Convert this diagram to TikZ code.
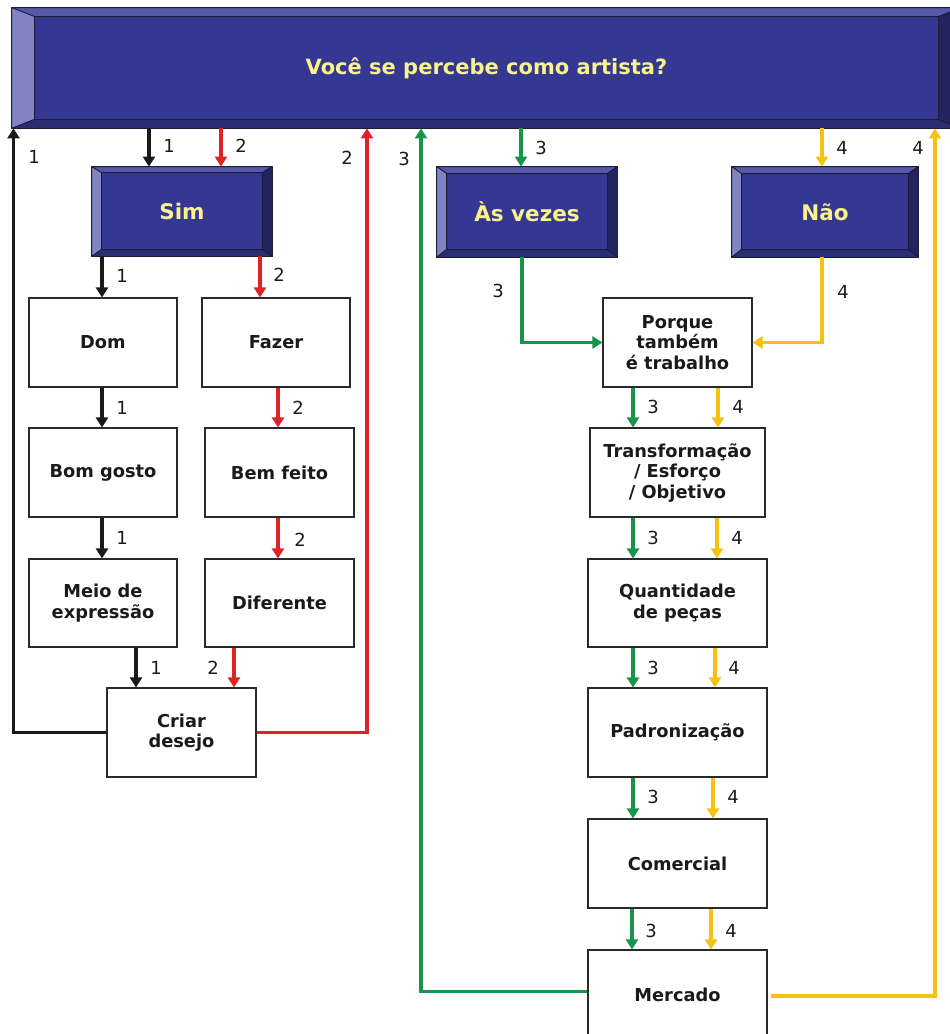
\documentclass[tikz,border=0pt]{standalone}
\usepackage{fontspec}
\setmainfont{DejaVu Sans}
\usetikzlibrary{arrows.meta,calc}

\definecolor{face}{HTML}{343893}
\definecolor{bvtop}{HTML}{5557A8}
\definecolor{bvleft}{HTML}{8283C2}
\definecolor{bvbottom}{HTML}{2B2D72}
\definecolor{bvright}{HTML}{222460}
\definecolor{edge}{HTML}{1C1C34}
\definecolor{ylw}{HTML}{FAF28C}
\definecolor{txt}{HTML}{1A1A1A}
\definecolor{boxline}{HTML}{2A2A2A}
\definecolor{blk}{HTML}{1A1A1A}
\definecolor{rd}{HTML}{DF2227}
\definecolor{gr}{HTML}{17954B}
\definecolor{yl}{HTML}{F6C212}

% bevelled frame around a node: node, side inset, top inset, bottom inset
\newcommand\bevelframe[4]{%
  \filldraw[bvtop,draw=edge,line width=0.8pt,line join=round]
    (#1.north west) -- (#1.north east) -- ($(#1.north east)+(-#2,#3)$) -- ($(#1.north west)+(#2,#3)$) -- cycle;
  \filldraw[bvleft,draw=edge,line width=0.8pt,line join=round]
    (#1.north west) -- ($(#1.north west)+(#2,#3)$) -- ($(#1.south west)+(#2,-#4)$) -- (#1.south west) -- cycle;
  \filldraw[bvbottom,draw=edge,line width=0.8pt,line join=round]
    (#1.south west) -- (#1.south east) -- ($(#1.south east)+(-#2,-#4)$) -- ($(#1.south west)+(#2,-#4)$) -- cycle;
  \filldraw[bvright,draw=edge,line width=0.8pt,line join=round]
    (#1.north east) -- (#1.south east) -- ($(#1.south east)+(-#2,-#4)$) -- ($(#1.north east)+(-#2,#3)$) -- cycle;
}

\begin{document}
\begin{tikzpicture}[x=1pt,y=-1pt,
  bluebox/.style={fill=face, draw=edge, line width=0.8pt, text=ylw,
    font=\fontsize{21.5}{24}\selectfont\bfseries, inner sep=0pt},
  whitebox/.style={draw=boxline, line width=1.1pt, fill=white, align=center,
    font=\fontsize{17.8}{20.5}\selectfont\bfseries, text=txt, inner sep=0pt},
  num/.style={font=\fontsize{18}{18}\selectfont, text=txt, inner sep=0pt},
  link/.style={line width=3.8pt, line join=miter, -{Triangle[width=12pt,length=10pt]}}
]
\clip (0,0) rectangle (950,1034);

% question bar and answer boxes
\node[bluebox, minimum width=949pt, minimum height=120pt, font=\fontsize{21}{24}\selectfont\bfseries]
  (bar) at (486.5,68) {Você se percebe como artista?};
\bevelframe{bar}{23}{9}{9}
\node[bluebox, minimum width=180pt, minimum height=89pt] (sim) at (182,211.5) {Sim};
\bevelframe{sim}{10}{6}{7}
\node[bluebox, minimum width=180pt, minimum height=90pt] (asv) at (527,212) {Às vezes};
\bevelframe{asv}{10}{7}{8}
\node[bluebox, minimum width=186pt, minimum height=90pt] (nao) at (825,212) {Não};
\bevelframe{nao}{10}{7}{8}

% left branch
\node[whitebox, minimum width=148pt, minimum height=89pt] (dom) at (103,342.5) {Dom};
\node[whitebox, minimum width=148pt, minimum height=89pt] (fazer) at (276,342.5) {Fazer};
\node[whitebox, minimum width=148pt, minimum height=89pt] (bom) at (103,472.5) {Bom gosto};
\node[whitebox, minimum width=149pt, minimum height=89pt] (bem) at (279.5,472.5) {Bem feito};
\node[whitebox, minimum width=148pt, minimum height=88pt] (meio) at (103,603) {Meio de\\expressão};
\node[whitebox, minimum width=149pt, minimum height=88pt] (dif) at (279.5,603) {Diferente};
\node[whitebox, minimum width=149pt, minimum height=89pt] (criar) at (181.5,732.5) {Criar\\desejo};

% right branch
\node[whitebox, minimum width=149pt, minimum height=89pt] (porque) at (677.5,342.5) {Porque\\também\\é trabalho};
\node[whitebox, minimum width=175pt, minimum height=89pt] (trans) at (677.5,472.5) {Transformação\\/ Esforço\\/ Objetivo};
\node[whitebox, minimum width=179pt, minimum height=88pt] (quant) at (677.5,603) {Quantidade\\de peças};
\node[whitebox, minimum width=179pt, minimum height=89pt] (pad) at (677.5,732.5) {Padronização};
\node[whitebox, minimum width=179pt, minimum height=89pt] (com) at (677.5,863.5) {Comercial};
\node[whitebox, minimum width=179pt, minimum height=89pt] (merc) at (677.5,994.5) {Mercado};

% path 1 (black)
\draw[link,blk] (bar.south -| 149,0) -- (sim.north -| 149,0);
\draw[link,blk] (sim.south -| 102,0) -- (dom.north -| 102,0);
\draw[link,blk] (dom.south -| 102,0) -- (bom.north -| 102,0);
\draw[link,blk] (bom.south -| 102,0) -- (meio.north -| 102,0);
\draw[link,blk] (meio.south -| 136,0) -- (criar.north -| 136,0);
\draw[link,blk] (criar.west) -| (bar.south -| 13.5,0);

% path 2 (red)
\draw[link,rd] (bar.south -| 221,0) -- (sim.north -| 221,0);
\draw[link,rd] (sim.south -| 260,0) -- (fazer.north -| 260,0);
\draw[link,rd] (fazer.south -| 278,0) -- (bem.north -| 278,0);
\draw[link,rd] (bem.south -| 278,0) -- (dif.north -| 278,0);
\draw[link,rd] (dif.south -| 234,0) -- (criar.north -| 234,0);
\draw[link,rd] (criar.east) -| (bar.south -| 367,0);

% path 3 (green)
\draw[link,gr] (bar.south -| 521,0) -- (asv.north -| 521,0);
\draw[link,gr] (asv.south -| 522,0) |- (porque.west);
\draw[link,gr] (porque.south -| 633,0) -- (trans.north -| 633,0);
\draw[link,gr] (trans.south -| 633,0) -- (quant.north -| 633,0);
\draw[link,gr] (quant.south -| 633,0) -- (pad.north -| 633,0);
\draw[link,gr] (pad.south -| 633,0) -- (com.north -| 633,0);
\draw[link,gr] (com.south -| 632,0) -- (merc.north -| 632,0);
\draw[link,gr] ([yshift=3pt]merc.west) -| (bar.south -| 421,0);

% path 4 (yellow)
\draw[link,yl] (bar.south -| 822,0) -- (nao.north -| 822,0);
\draw[link,yl] (nao.south -| 822,0) |- (porque.east);
\draw[link,yl] (porque.south -| 718,0) -- (trans.north -| 718,0);
\draw[link,yl] (trans.south -| 717,0) -- (quant.north -| 717,0);
\draw[link,yl] (quant.south -| 715,0) -- (pad.north -| 715,0);
\draw[link,yl] (pad.south -| 713,0) -- (com.north -| 713,0);
\draw[link,yl] (com.south -| 711,0) -- (merc.north -| 711,0);
\draw[link,yl] ([xshift=3pt,yshift=-1.5pt]merc.east) -| (bar.south -| 935,0);

% path numbers
\node[num] (l1a) at (34,157) {1};
\node[num] (l1b) at (169,146) {1};
\node[num] (l2a) at (241,146) {2};
\node[num] (l2b) at (347,158) {2};
\node[num] (l3a) at (404,159) {3};
\node[num] (l3b) at (541,148) {3};
\node[num] (l4a) at (842,148) {4};
\node[num] (l4b) at (918,148) {4};

\node[num] (l1c) at (122,276) {1};
\node[num] (l2c) at (279,275) {2};
\node[num] (l1d) at (122,408) {1};
\node[num] (l2d) at (298,408) {2};
\node[num] (l1e) at (122,538) {1};
\node[num] (l2e) at (300,540) {2};
\node[num] (l1f) at (156,668) {1};
\node[num] (l2f) at (213,668) {2};

\node[num] (l3c) at (498,291) {3};
\node[num] (l4c) at (843,292) {4};
\node[num] (l3d) at (653,407) {3};
\node[num] (l4d) at (738,407) {4};
\node[num] (l3e) at (653,538) {3};
\node[num] (l4e) at (737,538) {4};
\node[num] (l3f) at (653,668) {3};
\node[num] (l4f) at (734,668) {4};
\node[num] (l3g) at (653,797) {3};
\node[num] (l4g) at (733,797) {4};
\node[num] (l3h) at (651,931) {3};
\node[num] (l4h) at (731,931) {4};
\end{tikzpicture}
\end{document}
